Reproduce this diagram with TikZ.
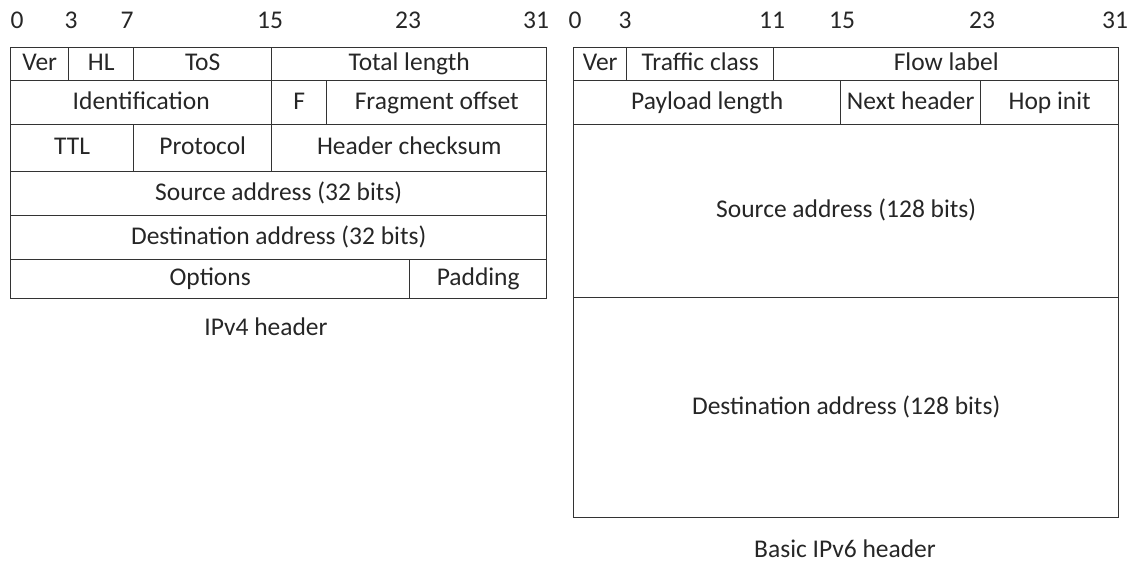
\documentclass[tikz,border=0pt]{standalone}
\usepackage{fontspec}
\setmainfont{Carlito}
\newcommand\fld[6]{\node[fld, minimum width={(#4-#2)*1pt}, minimum height={(#5-#3)*1pt}] (#1) at (#2,#3) {#6};}
\begin{document}
\begin{tikzpicture}[x=1pt,y=-1pt,
  fld/.style={draw=black!80, line width=1.4pt, inner sep=0pt, anchor=north west, font=\fontsize{25.5}{30}\selectfont, text=black!85, text height=17pt, text depth=4pt},
  num/.style={inner sep=0pt, font=\fontsize{25.5}{30}\selectfont, text=black!85, text height=17pt, text depth=4pt},
  captext/.style={inner sep=0pt, font=\fontsize{25.5}{30}\selectfont, text=black!85, text height=17pt, text depth=4pt}]
\useasboundingbox (0,0) rectangle (1140,566);
% bit numbers IPv4
\node[num] (n40) at (17,22) {0};
\node[num] (n43) at (71,22) {3};
\node[num] (n47) at (127,22) {7};
\node[num] (n415) at (270,22) {15};
\node[num] (n423) at (408,22) {23};
\node[num] (n431) at (536,22) {31};
% bit numbers IPv6
\node[num] (n60) at (575,22) {0};
\node[num] (n63) at (625,22) {3};
\node[num] (n611) at (772,22) {11};
\node[num] (n615) at (842,22) {15};
\node[num] (n623) at (982,22) {23};
\node[num] (n631) at (1115,22) {31};
% IPv4 header
\fld{ver4}{10}{47}{68}{80}{Ver}
\fld{hl}{68}{47}{133}{80}{HL}
\fld{tos}{133}{47}{271}{80}{ToS}
\fld{tlen}{271}{47}{546}{80}{Total length}
\fld{ident}{10}{80}{271}{124}{Identification}
\fld{flag}{271}{80}{326}{124}{F}
\fld{frag}{326}{80}{546}{124}{Fragment offset}
\fld{ttl}{10}{124}{133}{171}{TTL}
\fld{proto}{133}{124}{271}{171}{Protocol}
\fld{hcs}{271}{124}{546}{171}{Header checksum}
\fld{src4}{10}{171}{546}{215}{Source address (32 bits)}
\fld{dst4}{10}{215}{546}{259}{Destination address (32 bits)}
\fld{opt}{10}{259}{409}{298}{Options}
\fld{pad}{409}{259}{546}{298}{Padding}
\node[captext] (c4) at (266,329) {IPv4 header};
% IPv6 header
\fld{ver6}{573}{47}{626}{80}{Ver}
\fld{tc}{626}{47}{773}{80}{Traffic class}
\fld{fl}{773}{47}{1118}{80}{Flow label}
\fld{plen}{573}{80}{840}{124}{Payload length}
\fld{nh}{840}{80}{980}{124}{Next header}
\fld{hop}{980}{80}{1118}{124}{Hop init}
\fld{src6}{573}{124}{1118}{297}{Source address (128 bits)}
\fld{dst6}{573}{297}{1118}{517}{Destination address (128 bits)}
\node[captext] (c6) at (845,551) {Basic IPv6 header};
\end{tikzpicture}
\end{document}
